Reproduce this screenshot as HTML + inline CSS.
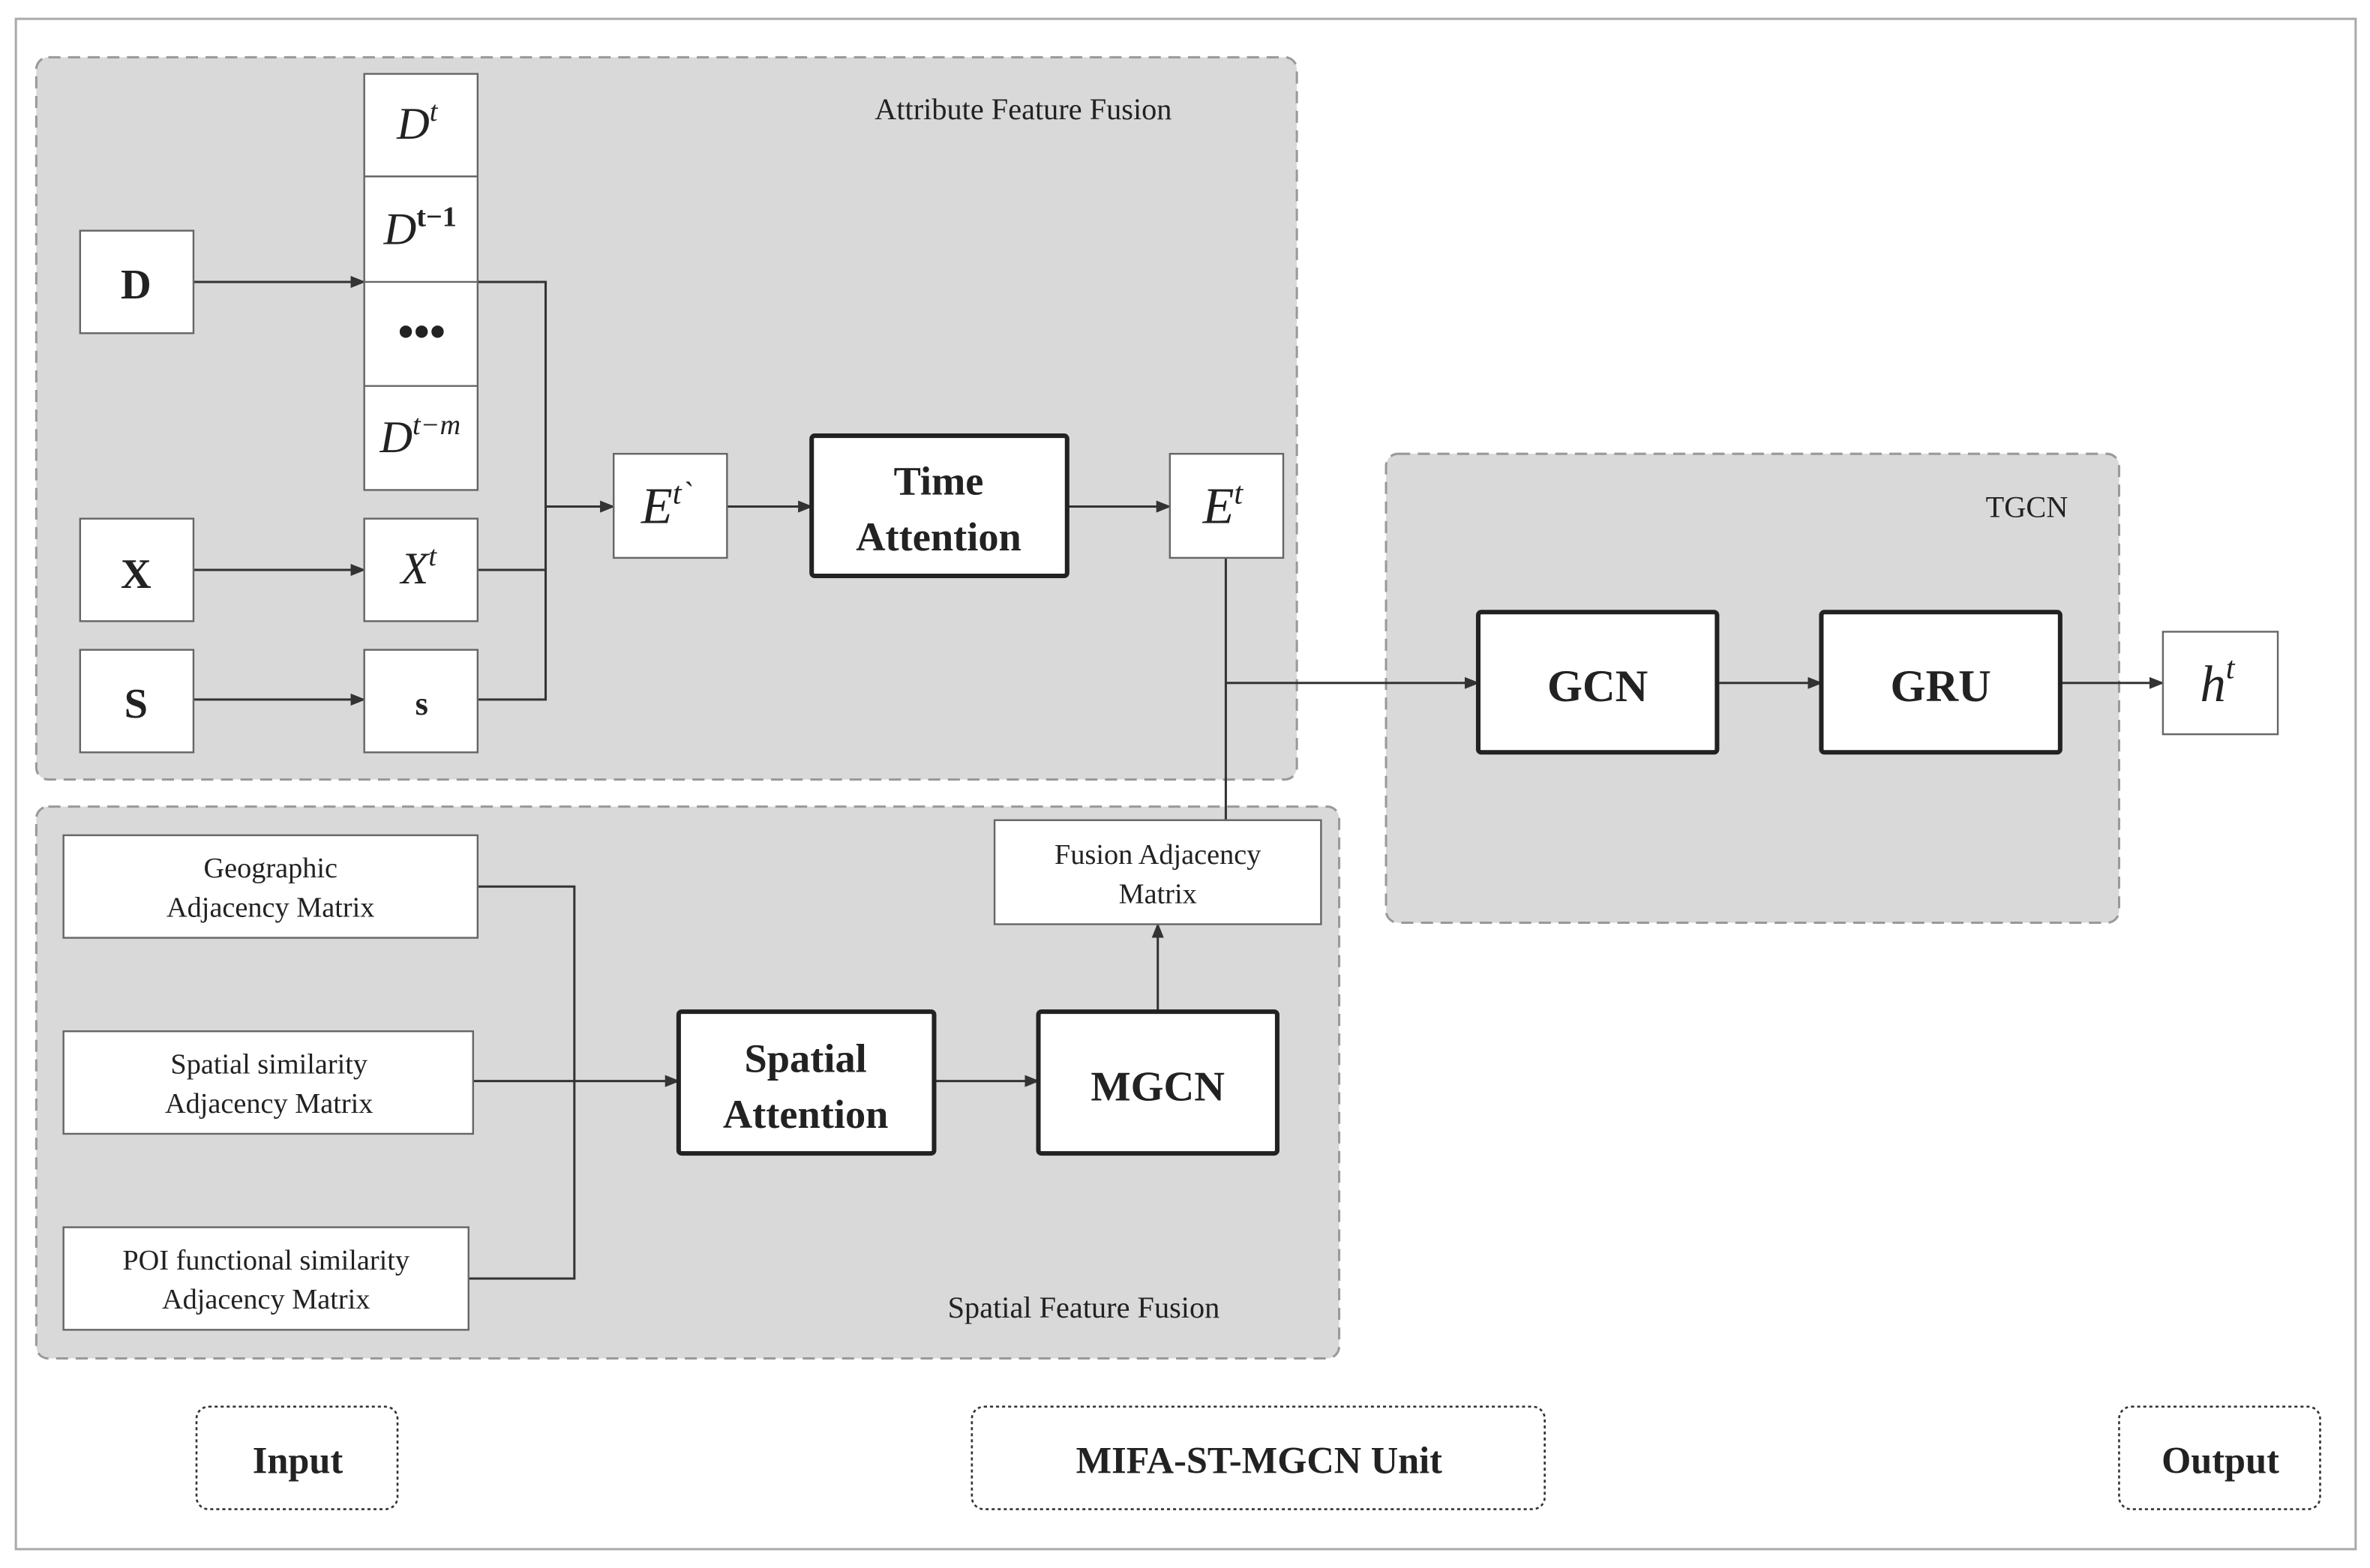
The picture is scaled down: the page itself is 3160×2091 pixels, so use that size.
<!DOCTYPE html>
<html><head><meta charset="utf-8"><style>
html,body{margin:0;padding:0;background:#fff;}
svg{display:block;}
text{font-family:"Liberation Serif",serif;fill:#222;}
</style></head><body>
<svg width="3160" height="2091" viewBox="0 0 1568 1040" preserveAspectRatio="none" xmlns="http://www.w3.org/2000/svg">
<defs>
<marker id="a" markerWidth="10" markerHeight="8" refX="9" refY="4" orient="auto" markerUnits="userSpaceOnUse">
<path d="M0,0 L10,4 L0,8 z" fill="#333"/></marker>
</defs>
<rect x="0" y="0" width="1568" height="1040" fill="#fff"/>
<rect x="10.5" y="12.5" width="1548" height="1015" fill="none" stroke="#aaa" stroke-width="1.5"/>
<!-- panels -->
<rect x="24" y="38" width="834" height="479" rx="8" fill="#d9d9d9" stroke="#999" stroke-width="1.5" stroke-dasharray="8,5"/>
<rect x="24" y="535" width="862" height="366" rx="8" fill="#d9d9d9" stroke="#999" stroke-width="1.5" stroke-dasharray="8,5"/>
<rect x="917" y="301" width="485" height="311" rx="8" fill="#d9d9d9" stroke="#999" stroke-width="1.5" stroke-dasharray="8,5"/>
<text x="677" y="79" font-size="20" text-anchor="middle">Attribute Feature Fusion</text>
<text x="717" y="874" font-size="20" text-anchor="middle">Spatial Feature Fusion</text>
<text x="1341" y="343" font-size="20" text-anchor="middle">TGCN</text>
<!-- connectors -->
<g stroke="#333" stroke-width="1.5" fill="none">
<line x1="128" y1="187" x2="241" y2="187" marker-end="url(#a)"/>
<line x1="128" y1="378" x2="241" y2="378" marker-end="url(#a)"/>
<line x1="128" y1="464" x2="241" y2="464" marker-end="url(#a)"/>
<polyline points="316,187 361,187 361,464 316,464"/>
<line x1="316" y1="378" x2="361" y2="378"/>
<line x1="361" y1="336" x2="406" y2="336" marker-end="url(#a)"/>
<line x1="481" y1="336" x2="537" y2="336" marker-end="url(#a)"/>
<line x1="706" y1="336" x2="774" y2="336" marker-end="url(#a)"/>
<line x1="811" y1="370" x2="811" y2="544"/>
<line x1="811" y1="453" x2="978" y2="453" marker-end="url(#a)"/>
<line x1="1136" y1="453" x2="1205" y2="453" marker-end="url(#a)"/>
<line x1="1363" y1="453" x2="1431" y2="453" marker-end="url(#a)"/>
<polyline points="316,588 380,588 380,848 310,848"/>
<line x1="313" y1="717" x2="449" y2="717" marker-end="url(#a)"/>
<line x1="618" y1="717" x2="687" y2="717" marker-end="url(#a)"/>
<line x1="766" y1="671" x2="766" y2="613" marker-end="url(#a)"/>
</g>
<!-- thin boxes -->
<g fill="#fff" stroke="#666" stroke-width="1.2">
<rect x="53" y="153" width="75" height="68"/>
<rect x="53" y="344" width="75" height="68"/>
<rect x="53" y="431" width="75" height="68"/>
<rect x="241" y="49" width="75" height="276"/>
<rect x="241" y="344" width="75" height="68"/>
<rect x="241" y="431" width="75" height="68"/>
<rect x="406" y="301" width="75" height="69"/>
<rect x="774" y="301" width="75" height="69"/>
<rect x="1431" y="419" width="76" height="68"/>
<rect x="42" y="554" width="274" height="68"/>
<rect x="42" y="684" width="271" height="68"/>
<rect x="42" y="814" width="268" height="68"/>
<rect x="658" y="544" width="216" height="69"/>
</g>
<g stroke="#666" stroke-width="1.2"><line x1="241" y1="117" x2="316" y2="117"/><line x1="241" y1="187" x2="316" y2="187"/><line x1="241" y1="256" x2="316" y2="256"/></g>
<!-- thick boxes -->
<g fill="#fff" stroke="#222" stroke-width="3">
<rect x="537" y="289" width="169" height="93" rx="2"/>
<rect x="978" y="406" width="158" height="93" rx="2"/>
<rect x="1205" y="406" width="158" height="93" rx="2"/>
<rect x="449" y="671" width="169" height="94" rx="2"/>
<rect x="687" y="671" width="158" height="94" rx="2"/>
</g>
<!-- dotted label boxes -->
<g fill="#fff" stroke="#333" stroke-width="1.3" stroke-dasharray="2,2">
<rect x="130" y="933" width="133" height="68" rx="8"/>
<rect x="643" y="933" width="379" height="68" rx="8"/>
<rect x="1402" y="933" width="133" height="68" rx="8"/>
</g>
<g font-weight="bold" text-anchor="middle">
<text x="90" y="198" font-size="28">D</text>
<text x="90" y="390" font-size="28">X</text>
<text x="90" y="476" font-size="28">S</text>
<text x="279" y="474" font-size="22">s</text>
<text x="279" y="230" font-size="30">•••</text>
<text x="621" y="328" font-size="27">Time</text>
<text x="621" y="365" font-size="27">Attention</text>
<text x="1057" y="465" font-size="30">GCN</text>
<text x="1284" y="465" font-size="30">GRU</text>
<text x="533" y="711" font-size="27">Spatial</text>
<text x="533" y="748" font-size="27">Attention</text>
<text x="766" y="730" font-size="28">MGCN</text>
<text x="197" y="977" font-size="25">Input</text>
<text x="833" y="977" font-size="25">MIFA-ST-MGCN Unit</text>
<text x="1469" y="977" font-size="25">Output</text>
</g>
<g font-style="italic" text-anchor="middle" font-size="30">
<text x="276" y="92">D<tspan font-size="19" dy="-12">t</tspan></text>
<text x="278" y="162">D<tspan font-size="19" dy="-12" font-weight="bold" font-style="normal">t−1</tspan></text>
<text x="278" y="300">D<tspan font-size="19" dy="-12">t−m</tspan></text>
<text x="277" y="387">X<tspan font-size="19" dy="-12">t</tspan></text>
<text x="441" y="347" font-size="34">E<tspan font-size="21" dy="-13">t`</tspan></text>
<text x="809" y="347" font-size="34">E<tspan font-size="21" dy="-13">t</tspan></text>
<text x="1467" y="465" font-size="34">h<tspan font-size="21" dy="-15">t</tspan></text>
</g>
<g text-anchor="middle" font-size="19">
<text x="179" y="582">Geographic</text>
<text x="179" y="608">Adjacency Matrix</text>
<text x="178" y="712">Spatial similarity</text>
<text x="178" y="738">Adjacency Matrix</text>
<text x="176" y="842">POI functional similarity</text>
<text x="176" y="868">Adjacency Matrix</text>
<text x="766" y="573">Fusion Adjacency</text>
<text x="766" y="599">Matrix</text>
</g>
</svg>
</body></html>
